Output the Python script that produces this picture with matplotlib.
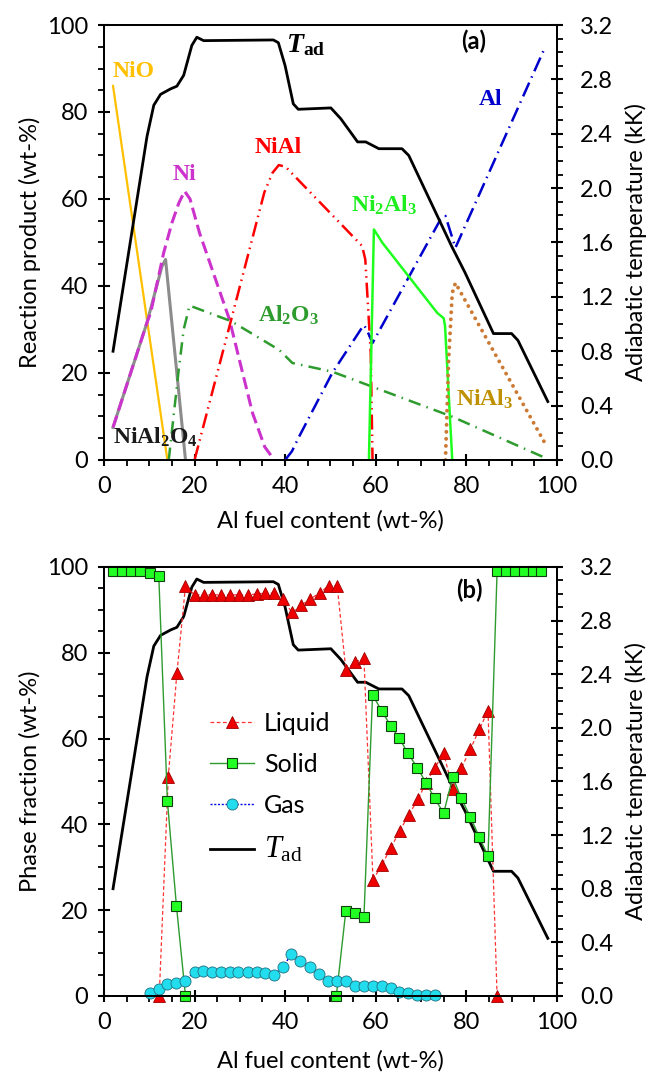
import matplotlib
matplotlib.use('Agg')
import matplotlib.pyplot as plt
from matplotlib.ticker import MultipleLocator, FormatStrFormatter

plt.rcParams['font.family'] = ['Lato', 'DejaVu Sans']
plt.rcParams['mathtext.fontset'] = 'custom'
plt.rcParams['mathtext.rm'] = 'Liberation Serif'
plt.rcParams['mathtext.it'] = 'Liberation Serif:italic'
plt.rcParams['mathtext.bf'] = 'Liberation Serif:bold'
plt.rcParams['mathtext.bfit'] = 'Liberation Serif:italic:bold'

# ---------------- data ----------------
# adiabatic temperature (kK), shared by both panels
tad_x = [2, 9.5, 11.0, 12.5, 14.7, 16.1, 17.6, 19.4, 20.5, 22.0, 37.4, 38.5, 40.0, 41.8,
         42.9, 50.1, 52.3, 56.0, 57.8, 60.7, 65.8, 67.3, 76.8, 79.7, 86.0, 90.0, 91.4, 98.0]
tad_k = [0.80, 2.38, 2.61, 2.69, 2.73, 2.75, 2.83, 3.05, 3.11, 3.085, 3.09, 3.07, 2.90, 2.62,
         2.58, 2.59, 2.51, 2.34, 2.34, 2.29, 2.29, 2.24, 1.57, 1.38, 0.93, 0.93, 0.88, 0.43]

# panel (a): reaction products (wt-%)
nio_x = [2, 14.0]
nio_y = [86, 0]
nial2o4_x = [2, 9.5, 12.8, 13.6, 18.0]
nial2o4_y = [7.5, 31.6, 44.5, 46.1, 0]
ni_x = [2, 9.5, 10.3, 13.2, 15.0, 16.5, 17.8, 19.0, 21.1, 27.7, 32.8, 35.5, 37.6]
ni_y = [7.5, 31.6, 33.8, 47.7, 54.5, 59.0, 61.8, 60.0, 52.2, 32.3, 10.8, 3.0, 0]
nial_x = [20.0, 28.1, 35.4, 37.2, 38.6, 40.1, 57.0, 57.7, 58.9, 59.3]
nial_y = [0, 32.3, 61.5, 66.0, 67.8, 67.4, 49.2, 46.1, 24.6, 0]
al_x = [40.0, 41.5, 43.1, 50.4, 56.7, 57.4, 58.0, 59.3, 74.3, 75.4, 77.6, 97.4]
al_y = [0, 2.0, 5.4, 20.0, 30.0, 31.0, 30.0, 26.9, 55.3, 56.1, 48.8, 94.9]
ni2al3_x = [58.5, 59.6, 61.5, 73.6, 75.0, 75.3, 76.9]
ni2al3_y = [0, 53.0, 49.9, 33.8, 32.6, 30.9, 0]
nial3_x = [75.4, 76.1, 76.9, 77.6, 97.4]
nial3_y = [0, 23.0, 38.4, 40.7, 3.8]
al2o3_x = [14.3, 16.5, 17.6, 18.9, 28.1, 38.7, 41.6, 50.4, 76.8, 97.4]
al2o3_y = [0, 20.7, 30.0, 35.5, 31.9, 25.3, 22.3, 20.3, 10.0, 0.5]

# panel (b): phase fractions (wt-%)
solid_x = [2, 4, 6, 8, 10.1, 12.1, 14.0, 16.0, 18.0, 51.3, 53.4, 55.4, 57.4, 59.3, 61.3,
           63.3, 65.2, 67.1, 69.2, 71.1, 73.0, 75.0, 77.0, 78.9, 80.9, 82.9, 84.8, 86.8,
           88.7, 90.8, 92.8, 94.8, 96.6]
solid_y = [99, 99, 99, 99, 98.7, 97.9, 45.5, 21.0, 0, 0, 19.8, 19.3, 18.3, 70.2, 66.5,
           63.0, 60.1, 56.6, 53.2, 49.7, 46.1, 42.6, 51.0, 46.1, 41.7, 37.0, 32.6, 99,
           99, 99, 99, 99, 99]
liquid_x = [12.2, 14.2, 16.1, 18.0, 20.0, 22.0, 23.9, 25.9, 27.9, 29.8, 31.8, 33.7, 35.6,
            37.6, 39.5, 41.5, 43.5, 45.6, 47.6, 49.6, 51.5, 53.4, 55.4, 57.4, 59.4, 61.3,
            63.3, 65.3, 67.3, 69.3, 71.1, 73.0, 75.0, 77.0, 78.9, 80.9, 82.9, 84.8, 86.8]
liquid_y = [0, 51.1, 75.2, 95.6, 93.5, 93.5, 93.5, 93.5, 93.5, 93.5, 93.5, 93.7, 93.9,
            93.9, 92.5, 89.4, 91.1, 92.5, 94.0, 95.6, 95.6, 76.0, 77.8, 78.7, 27.0, 30.5,
            34.4, 38.5, 42.2, 45.8, 49.7, 53.1, 56.6, 48.2, 53.1, 57.5, 62.2, 66.5, 0]
gas_x = [10.1, 12.1, 14.0, 16.0, 18.0, 20.0, 21.9, 23.8, 25.8, 27.8, 29.7, 31.7, 33.7,
         35.6, 37.6, 39.5, 41.4, 43.3, 45.5, 47.5, 49.5, 51.5, 53.4, 55.4, 57.4, 59.3,
         61.3, 63.3, 65.2, 67.1, 69.2, 71.1, 73.0]
gas_y = [0.6, 1.6, 2.8, 3.1, 3.6, 5.7, 5.9, 5.7, 5.7, 5.7, 5.7, 5.7, 5.6, 5.4, 5.0, 6.7,
         9.8, 8.2, 6.7, 5.1, 3.6, 3.6, 3.6, 2.4, 2.4, 2.4, 2.4, 1.8, 0.9, 0.6, 0.2, 0.2, 0.2]

FS = 17

fig = plt.figure(figsize=(6.47, 10.73), dpi=100)
axA = fig.add_axes([0.1607, 0.5713, 0.700, 0.4054])
axB = fig.add_axes([0.1607, 0.0718, 0.700, 0.3998])


def style(ax, ax2, ylabel):
    ax.set_xlim(0, 100)
    ax.set_ylim(0, 100)
    ax2.set_ylim(0, 3.2)
    for a in (ax, ax2):
        for s in a.spines.values():
            s.set_linewidth(1.4)
    ax.xaxis.set_major_locator(MultipleLocator(20))
    ax.xaxis.set_minor_locator(MultipleLocator(5))
    ax.yaxis.set_major_locator(MultipleLocator(20))
    ax.yaxis.set_minor_locator(MultipleLocator(5))
    ax.tick_params(which='major', direction='inout', length=9, width=1.5,
                   labelsize=FS, top=False, right=False, pad=7)
    ax.tick_params(which='minor', direction='out', length=4, width=1.3,
                   top=False, right=False)
    ax2.yaxis.set_major_locator(MultipleLocator(0.4))
    ax2.yaxis.set_minor_locator(MultipleLocator(0.1))
    ax2.yaxis.set_major_formatter(FormatStrFormatter('%.1f'))
    ax2.tick_params(which='major', direction='inout', length=9, width=1.5,
                    labelsize=FS, pad=12)
    ax2.tick_params(which='minor', direction='out', length=4, width=1.3)
    ax.set_xlabel('Al fuel content (wt-%)', fontsize=FS)
    ax.set_ylabel(ylabel, fontsize=FS)
    ax2.set_ylabel('Adiabatic temperature (kK)', fontsize=FS)
    ax.yaxis.set_label_coords(-0.14, 0.5)
    ax2.yaxis.set_label_coords(1.15, 0.5)
    ax.xaxis.set_label_coords(0.5, -0.115)


# ---------------- panel (a) ----------------
axA2 = axA.twinx()
axA.plot(nio_x, nio_y, color='#FFC000', lw=1.6)
axA.plot(nial2o4_x, nial2o4_y, color='#8C8C8C', lw=2.2)
axA.plot(ni_x, ni_y, color='#CC33CC', lw=2.2, ls=(0, (4, 1.8)))
axA.plot(al2o3_x, al2o3_y, color='#2E9B2E', lw=1.8, ls=(0, (5, 2.5, 0.6, 2.5)))
axA.plot(nial_x, nial_y, color='#FF0000', lw=1.8, ls=(0, (6, 2, 0.6, 2, 0.6, 2)))
axA.plot(al_x, al_y, color='#0000CC', lw=1.8, ls=(0, (6, 2.2, 0.6, 2.2)))
axA.plot(ni2al3_x, ni2al3_y, color='#1EFF1E', lw=1.8)
axA.plot(nial3_x, nial3_y, color='#CC7A33', lw=2.8, ls=(0, (0.01, 1.8)),
         dash_capstyle='round')
axA2.plot(tad_x, tad_k, color='black', lw=2)
style(axA, axA2, 'Reaction product (wt-%)')

lab = dict(fontsize=FS, fontweight='bold', family='Liberation Serif', va='center', ha='left')
axA.text(2.0, 89.2, 'NiO', color='#FFC000', **lab)
axA.text(15.2, 65.7, 'Ni', color='#CC33CC', **lab)
axA.text(33.2, 71.9, 'NiAl', color='#FF0000', **lab)
axA.text(54.6, 58.6, r'Ni$_\mathbf{2}$Al$_\mathbf{3}$', color='#1EEE1E', **lab)
axA.text(82.7, 82.9, 'Al', color='#0000CC', **lab)
axA.text(33.9, 33.3, r'Al$_\mathbf{2}$O$_\mathbf{3}$', color='#2E9B2E', **lab)
axA.text(77.7, 13.9, r'NiAl$_\mathbf{3}$', color='#BF9000', **lab)
axA.text(2.0, 5.3, r'NiAl$_\mathbf{2}$O$_\mathbf{4}$', color='#1A1A1A', **lab)
axA.text(40.3, 95.5, r'$\mathbfit{T}_\mathbf{ad}$', fontsize=20, color='black',
         va='center', ha='left')
axA.text(78.8, 96.3, '(a)', fontsize=FS, fontweight='bold', va='center', ha='left')

# ---------------- panel (b) ----------------
axB2 = axB.twinx()
axB.set_zorder(axB2.get_zorder() + 1)
axB.patch.set_visible(False)
hL, = axB.plot(liquid_x, liquid_y, color='#FF3333', lw=0.9, ls=(0, (3, 2)),
               marker='^', ms=8, mfc='#EE0000', mec='#A00000', mew=0.6,
               clip_on=False, label='Liquid')
hS, = axB.plot(solid_x, solid_y, color='#2E9B2E', lw=1.0,
               marker='s', ms=7, mfc='#22FF22', mec='#104010', mew=0.8,
               clip_on=False, label='Solid')
hG, = axB.plot(gas_x, gas_y, color='#0000EE', lw=1.0, ls=(0, (1.5, 1.2)),
               marker='o', ms=8, mfc='#22DDEE', mec='#207080', mew=0.6,
               clip_on=False, label='Gas')
hT, = axB2.plot(tad_x, tad_k, color='black', lw=2, label=r'$T_\mathrm{ad}$')
style(axB, axB2, 'Phase fraction (wt-%)')
axB.xaxis.set_label_coords(0.5, -0.125)
axB.text(77.7, 94.6, '(b)', fontsize=FS, fontweight='bold', va='center', ha='left')

leg = axB.legend(handles=[hL, hS, hG, hT], loc='center left',
                 bbox_to_anchor=(0.235, 0.485), frameon=False, fontsize=FS + 1,
                 handlelength=1.75, handletextpad=0.4, labelspacing=0.72,
                 borderpad=0, borderaxespad=0)
leg.get_texts()[3].set_fontsize(22)

fig.savefig('out.png', dpi=100)
